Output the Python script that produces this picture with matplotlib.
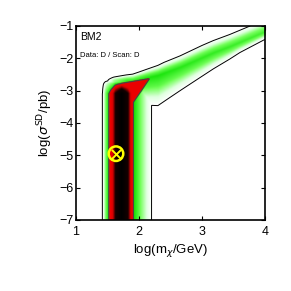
import numpy as np
import matplotlib
matplotlib.use('Agg')
import matplotlib.pyplot as plt
from matplotlib.colors import LinearSegmentedColormap

plt.rcParams['font.family'] = ['Liberation Sans', 'DejaVu Sans']

# vertical band: likelihood profile across log(m)
prof_x = [1.36, 1.42, 1.47, 1.52, 1.58, 1.62, 1.72, 1.82, 1.86, 1.91, 1.97, 2.05, 2.15, 2.20, 2.26]
prof_v = [0.0, 0.1, 0.35, 0.5, 0.66, 0.82, 1.0, 0.82, 0.66, 0.5, 0.42, 0.3, 0.15, 0.1, 0.0]
# fade at the top of the vertical band
top_y = [-3.10, -2.96, -2.80, -2.67, -2.58]
top_v = [1.0, 0.82, 0.55, 0.12, 0.0]

# red corner where the two bands meet
corner_y = [-3.5, -3.39, -2.65, -2.5]
corner_edge = [1.92, 1.94, 2.2, 2.2]
corner_top_x = [1.62, 2.17]
corner_top_y = [-2.77, -2.59]

# diagonal band: ridge line, height and widths
ridge_x = [1.9, 2.3, 2.65, 3.18, 3.44, 4.0]
ridge_y = [-2.72, -2.55, -2.3, -1.85, -1.66, -1.2]
amp_x = [1.45, 1.6, 1.8, 2.1, 2.3, 2.45, 2.7, 3.0, 4.0]
amp_v = [0.0, 0.3, 0.45, 0.48, 0.48, 0.47, 0.46, 0.45, 0.42]
wup_x = [1.5, 2.0, 2.4, 3.0]
wup_v = [0.14, 0.25, 0.35, 0.4]
wlo_x = [1.9, 2.3, 2.65, 3.18, 3.6, 4.0]
wlo_v = [0.7, 0.9, 0.7, 0.48, 0.3, 0.22]
shape_u = [0.0, 0.35, 0.7, 1.0, 1.3]
shape_r = [1.0, 0.8, 0.45, 0.22, 0.0]

best_fit = (1.635, -4.95)

xg = np.linspace(1, 4, 450)
yg = np.linspace(-7, -1, 450)
X, Y = np.meshgrid(xg, yg)

L_vert = np.interp(X, prof_x, prof_v) * np.interp(Y, top_y, top_v)

dy = Y - np.interp(X, ridge_x, ridge_y)
w = np.where(dy > 0, np.interp(X, wup_x, wup_v), np.interp(X, wlo_x, wlo_v))
L_diag = np.interp(X, amp_x, amp_v) * np.interp(np.abs(dy) / w, shape_u, shape_r)

g_edge = np.interp(X - np.interp(Y, corner_y, corner_edge), [-0.05, 0.03], [1, 0])
g_top = np.interp(Y - np.interp(X, corner_top_x, corner_top_y), [-0.05, 0.03], [1, 0])
g_low = np.interp(Y, [-3.6, -3.4], [0, 1])
g_left = np.interp(X, [1.62, 1.72], [0, 1])
L_corner = 0.58 * g_edge * g_top * g_low * g_left

L = np.maximum(np.maximum(L_vert, L_diag), L_corner)

cmap = LinearSegmentedColormap.from_list('bm', [
    (0.0, 'white'), (0.1, 'white'), (0.2, (0.88, 1, 0.88)),
    (0.35, (0.45, 1, 0.35)), (0.499, (0.05, 0.88, 0.0)),
    (0.5, (1, 0, 0)), (0.66, (0.85, 0, 0)), (0.82, (0.08, 0, 0)), (1.0, 'black')])

fig = plt.figure(figsize=(2.91, 2.91), dpi=100)
ax = fig.add_axes([0.261, 0.244, 0.65, 0.667])
ax.imshow(L, extent=[1, 4, -7, -1], origin='lower', aspect='auto',
          cmap=cmap, vmin=0, vmax=1, interpolation='bilinear')
ax.contour(X, Y, L, levels=[0.1], colors='black', linewidths=0.7)
ax.contour(X, Y, L, levels=[0.5], colors='#444444', linewidths=0.8)

ax.scatter([best_fit[0]], [best_fit[1]], s=110, facecolors='none',
           edgecolors='yellow', linewidths=1.8, zorder=5)
ax.scatter([best_fit[0]], [best_fit[1]], s=45, marker='x',
           color='yellow', linewidths=1.4, zorder=6)

ax.text(1.07, -1.33, 'BM2', fontsize=7.5, va='center')
ax.text(1.07, -1.93, 'Data: D / Scan: D', fontsize=5.5, va='center')

ax.set_xlim(1, 4)
ax.set_ylim(-7, -1)
ax.set_xticks([1, 2, 3, 4])
ax.set_yticks([-7, -6, -5, -4, -3, -2, -1])
ax.set_yticklabels(['\u22127', '\u22126', '\u22125', '\u22124', '\u22123', '\u22122', '\u22121'])
ax.tick_params(direction='in', top=True, right=True, labelsize=9, length=3, width=0.8)
ax.tick_params(axis='x', pad=4)
ax.tick_params(axis='y', pad=2)
for s in ax.spines.values():
    s.set_linewidth(1.2)
ax.set_xlabel(r'log(m$_\chi$/GeV)', fontsize=9.5, labelpad=3)
ax.set_ylabel(r'log($\sigma^{\rm SD}$/pb)', fontsize=9.5, labelpad=3)

fig.savefig('out.png', dpi=100)
